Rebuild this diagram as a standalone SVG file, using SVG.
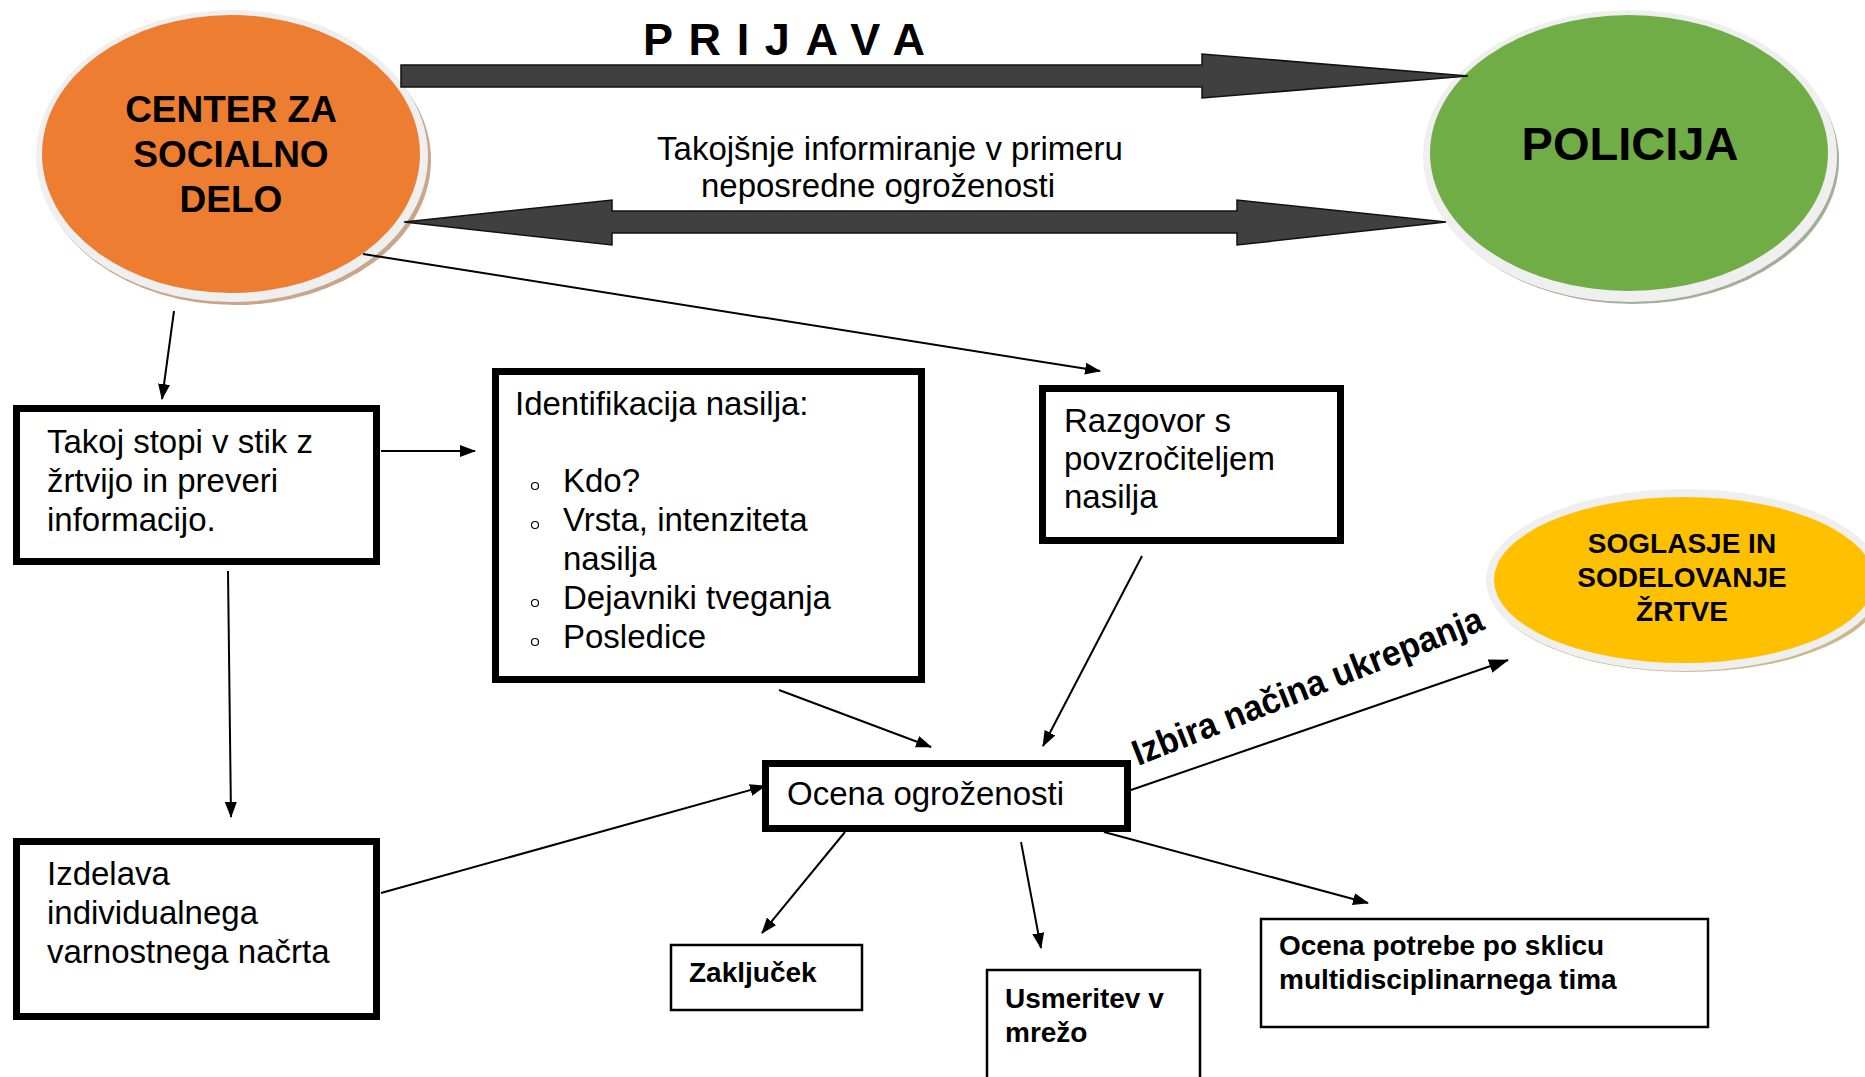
<svg xmlns="http://www.w3.org/2000/svg" width="1865" height="1077" viewBox="0 0 1865 1077">
<style>
text{font-family:"Liberation Sans",Arial,sans-serif;fill:#000}
.t{font-size:33px}
.b{font-weight:bold}
.s{font-size:28px;font-weight:bold}
.thick{fill:#fff;stroke:#000;stroke-width:7}
.thin{fill:#fff;stroke:#000;stroke-width:2.5}
.ln{stroke:#000;stroke-width:2;fill:none}
.big{fill:#404040;stroke:#111;stroke-width:1.5;stroke-linejoin:miter}
.rim{fill:#efefef}
.bul{fill:none;stroke:#000;stroke-width:1.2}
</style>
<defs>
<marker id="ah" markerUnits="userSpaceOnUse" markerWidth="16" markerHeight="12" refX="15" refY="6" orient="auto">
<path d="M0,0 L16,6 L0,12 Z" fill="#000"/>
</marker>
<marker id="ahb" markerUnits="userSpaceOnUse" markerWidth="20" markerHeight="14" refX="19" refY="7" orient="auto">
<path d="M0,0 L20,7 L0,14 Z" fill="#000"/>
</marker>
</defs>
<rect width="1865" height="1077" fill="#fff"/>

<g id="csd">
<ellipse cx="235" cy="160" rx="196" ry="145" fill="#c9a58a"/>
<ellipse class="rim" cx="232" cy="156" rx="196" ry="146"/>
<ellipse cx="231" cy="154" rx="189" ry="139" fill="#ED7D31"/>
<text class="b" font-size="37" x="231" y="122" text-anchor="middle">CENTER ZA</text>
<text class="b" font-size="37" x="231" y="167" text-anchor="middle">SOCIALNO</text>
<text class="b" font-size="37" x="231" y="212" text-anchor="middle">DELO</text>
</g>

<g id="policija">
<ellipse cx="1633" cy="160" rx="206" ry="144" fill="#a3ae98"/>
<ellipse class="rim" cx="1630" cy="156" rx="207" ry="146"/>
<ellipse cx="1629" cy="153" rx="199" ry="138" fill="#70AD47"/>
<text class="b" font-size="47" x="1630" y="160" text-anchor="middle">POLICIJA</text>
</g>

<g id="soglasje">
<ellipse cx="1687" cy="584" rx="198" ry="88" fill="#cbb98c"/>
<ellipse class="rim" cx="1684" cy="580" rx="198" ry="91"/>
<ellipse cx="1684" cy="580" rx="190" ry="83" fill="#FFC000"/>
<text class="s" x="1682" y="553" text-anchor="middle">SOGLASJE IN</text>
<text class="s" x="1682" y="587" text-anchor="middle">SODELOVANJE</text>
<text class="s" x="1682" y="621" text-anchor="middle">ŽRTVE</text>
</g>

<g id="connectors">
<path class="big" d="M401,65 L1202,65 L1202,54 L1468,76 L1202,98 L1202,87 L401,87 Z"/>
<path class="big" d="M404,222 L612,200 L612,211 L1237,211 L1237,200 L1446,222 L1237,245 L1237,233 L612,233 L612,245 Z"/>
<line class="ln" x1="174" y1="311" x2="162" y2="399" marker-end="url(#ah)"/>
<line class="ln" x1="363" y1="254" x2="1100" y2="371" marker-end="url(#ah)"/>
<line class="ln" x1="381" y1="451" x2="475" y2="451" stroke-width="3" marker-end="url(#ah)"/>
<line class="ln" x1="228" y1="571" x2="231" y2="817" marker-end="url(#ah)"/>
<line class="ln" x1="381" y1="893" x2="765" y2="786" stroke-width="2.5" marker-end="url(#ah)"/>
<line class="ln" x1="779" y1="690" x2="931" y2="747" marker-end="url(#ah)"/>
<line class="ln" x1="1142" y1="556" x2="1043" y2="746" marker-end="url(#ah)"/>
<line class="ln" x1="845" y1="832" x2="762" y2="933" marker-end="url(#ah)"/>
<line class="ln" x1="1021" y1="842" x2="1041" y2="948" marker-end="url(#ah)"/>
<line class="ln" x1="1104" y1="832" x2="1368" y2="903" marker-end="url(#ah)"/>
<line class="ln" x1="1131" y1="790" x2="1508" y2="660" stroke-width="3.5" marker-end="url(#ahb)"/>
<text class="b" font-size="45" x="643" y="55" textLength="282" lengthAdjust="spacing">PRIJAVA</text>
<text class="t" x="890" y="160" text-anchor="middle">Takojšnje informiranje v primeru</text>
<text class="t" x="878" y="197" text-anchor="middle">neposredne ogroženosti</text>
<text class="b" font-size="36" transform="translate(1138,766) rotate(-21.5)" textLength="374" lengthAdjust="spacingAndGlyphs">Izbira načina ukrepanja</text>
</g>

<g id="takoj">
<rect class="thick" x="16.5" y="408.5" width="360" height="153"/>
<text class="t" x="47" y="453">Takoj stopi v stik z</text>
<text class="t" x="47" y="492">žrtvijo in preveri</text>
<text class="t" x="47" y="531">informacijo.</text>
</g>

<g id="identifikacija">
<rect class="thick" x="495.5" y="371.5" width="426" height="308"/>
<text class="t" x="515" y="415">Identifikacija nasilja:</text>
<circle class="bul" cx="535" cy="486" r="3.5"/>
<circle class="bul" cx="535" cy="525" r="3.5"/>
<circle class="bul" cx="535" cy="603" r="3.5"/>
<circle class="bul" cx="535" cy="642" r="3.5"/>
<text class="t" x="563" y="492">Kdo?</text>
<text class="t" x="563" y="531">Vrsta, intenziteta</text>
<text class="t" x="563" y="570">nasilja</text>
<text class="t" x="563" y="609">Dejavniki tveganja</text>
<text class="t" x="563" y="648">Posledice</text>
</g>

<g id="razgovor">
<rect class="thick" x="1042.5" y="388.5" width="298" height="152"/>
<text class="t" x="1064" y="432">Razgovor s</text>
<text class="t" x="1064" y="470">povzročiteljem</text>
<text class="t" x="1064" y="508">nasilja</text>
</g>

<g id="izdelava">
<rect class="thick" x="16.5" y="841.5" width="360" height="175"/>
<text class="t" x="47" y="885">Izdelava</text>
<text class="t" x="47" y="924">individualnega</text>
<text class="t" x="47" y="963">varnostnega načrta</text>
</g>

<g id="ocena">
<rect class="thick" x="765.5" y="763.5" width="362" height="65"/>
<text class="t" x="787" y="805">Ocena ogroženosti</text>
</g>

<g id="zakljucek">
<rect class="thin" x="671" y="945" width="191" height="65"/>
<text class="s" x="689" y="982">Zaključek</text>
</g>

<g id="usmeritev">
<rect class="thin" x="987" y="970" width="213" height="120"/>
<text class="s" x="1005" y="1008">Usmeritev v</text>
<text class="s" x="1005" y="1042">mrežo</text>
</g>

<g id="ocena-potrebe">
<rect class="thin" x="1261" y="919" width="447" height="108"/>
<text class="s" x="1279" y="955">Ocena potrebe po sklicu</text>
<text class="s" x="1279" y="989">multidisciplinarnega tima</text>
</g>
</svg>
